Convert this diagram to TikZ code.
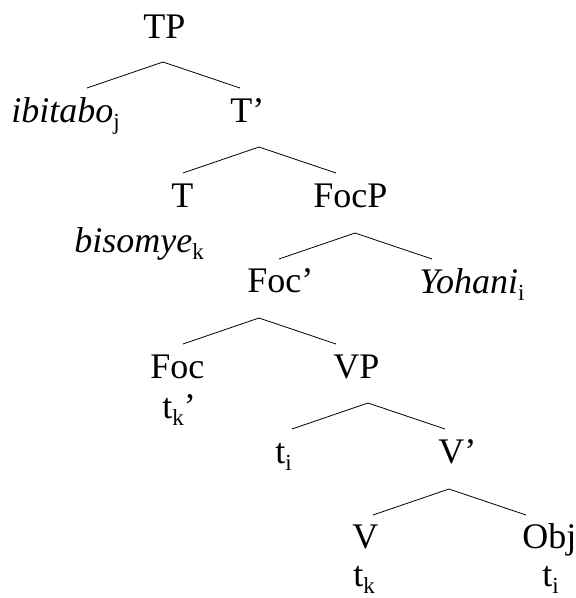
\documentclass[tikz,border=0pt]{standalone}
\usepackage{fontspec}
\setmainfont{Liberation Serif}
\newcommand\subx[1]{\raisebox{-0.22em}{\fontsize{23}{23}\selectfont #1}}
\tikzset{lbl/.style={anchor=base west, inner sep=0pt, font=\fontsize{36}{40}\selectfont}}
% fork below a label: apex, then one line down left, one down right
\newcommand\fork[3]{\coordinate (#1) at (#2,#3);
\draw (#1) ++(-76,26) -- (#1) -- ++(77,26);}
\begin{document}
\begin{tikzpicture}[x=1pt, y=-1pt, line width=0.8pt]
\useasboundingbox (0,0) rectangle (576,598);
\node[lbl] (TP) at (143,38) {TP};
\fork{tp-v}{163}{62}
\node[lbl] (ibitabo) at (11,122) {\textit{ibitabo}\subx{j}};
\node[lbl] (Tbar) at (230,122) {T’};
\fork{tbar-v}{259}{147}
%
\node[lbl] (T) at (171,207) {T};
\node[lbl] (bisomye) at (74,252) {\textit{bisomye}\subx{k}};
\node[lbl] (FocP) at (313,207) {FocP};
\fork{focp-v}{355}{233}
%
\node[lbl] (Focbar) at (247,292) {Foc’};
\node[lbl] (Yohani) at (419,293) {\textit{Yohani}\subx{i}};
\fork{focbar-v}{259}{318}
%
\node[lbl] (Foc) at (150,378) {Foc};
\node[lbl] (tk1) at (162,418) {t\subx{k}’};
\node[lbl] (VP) at (333,378) {VP};
\fork{vp-v}{368}{403}
%
\node[lbl] (ti1) at (275,463) {t\subx{i}};
\node[lbl] (Vbar) at (438,463) {V’};
\fork{vbar-v}{449}{489}
%
\node[lbl] (V) at (352,548) {V};
\node[lbl] (tk2) at (353,586) {t\subx{k}};
\node[lbl] (Obj) at (522,548) {Obj};
\node[lbl] (ti2) at (542,586) {t\subx{i}};
\end{tikzpicture}
\end{document}
